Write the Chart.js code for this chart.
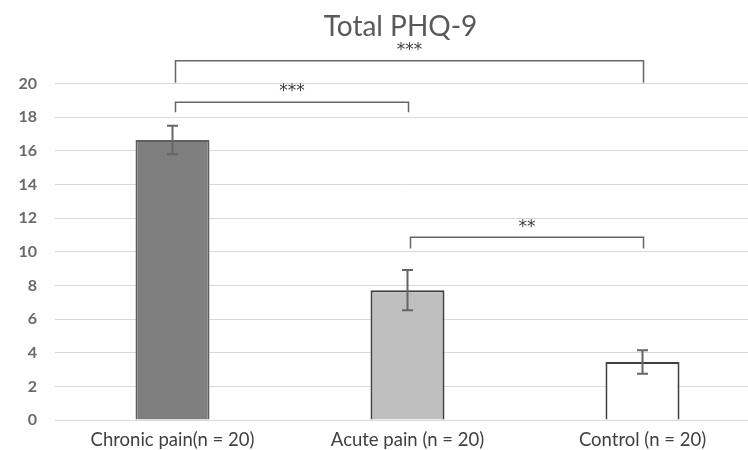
<!DOCTYPE html>
<html>
<head>
<meta charset="utf-8">
<script src="https://cdn.jsdelivr.net/npm/chart.js@4.4.1/dist/chart.umd.min.js"></script>
<style>
html,body{margin:0;padding:0;overflow:hidden;background:#fff;}
#wrap{width:760px;height:450px;}
</style>
</head>
<body>
<div id="wrap"><canvas id="c" width="760" height="450"></canvas></div>
<script>
const categories = ['Chronic pain(n = 20)', 'Acute pain (n = 20)', 'Control (n = 20)'];
const means = [16.65, 7.72, 3.45];
const errors = [0.85, 1.2, 0.7];
const fillColors = ['#7f7f7f', '#bfbfbf', '#ffffff'];
const borderColors = ['#5f5f5f', '#404040', '#404040'];
const yTicksMax = 20;
// brackets: from/to category index, top height, drop height, label height, label
const bracketFrom = [0, 0, 1];
const bracketTo = [2, 1, 2];
const bracketTop = [21.36, 18.9, 10.86];
const bracketDrop = [20.06, 18.3, 10.2];
const bracketLabelY = [21.95, 19.5, 11.45];
const bracketLabels = ['***', '***', '**'];

const FONT = 'Lato, "Open Sans", sans-serif';

const titleShift = {
  id: 'titleShift',
  afterLayout(chart) {
    const t = chart.titleBlock;
    if (t) { t.left -= 7; t.right -= 7; }
  }
};

const errPlugin = {
  id: 'errPlugin',
  afterDatasetsDraw(chart) {
    const ctx = chart.ctx, x = chart.scales.x, y = chart.scales.y;
    ctx.save();
    ctx.strokeStyle = '#666666';
    ctx.lineWidth = 2;
    means.forEach((m, i) => {
      const px = x.getPixelForValue(i);
      const t = y.getPixelForValue(m + errors[i]);
      const b = y.getPixelForValue(m - errors[i]);
      ctx.beginPath();
      ctx.moveTo(px, t); ctx.lineTo(px, b);
      ctx.moveTo(px - 5.5, t); ctx.lineTo(px + 5.5, t);
      ctx.moveTo(px - 5.5, b); ctx.lineTo(px + 5.5, b);
      ctx.stroke();
    });
    ctx.strokeStyle = '#666666';
    ctx.lineWidth = 1.5;
    ctx.fillStyle = '#404040';
    ctx.font = '17px "DejaVu Sans", sans-serif';
    ctx.textAlign = 'center';
    ctx.textBaseline = 'middle';
    bracketFrom.forEach((f, k) => {
      const x1 = x.getPixelForValue(f) + 3;
      const x2 = x.getPixelForValue(bracketTo[k]) + 1;
      const yt = y.getPixelForValue(bracketTop[k]);
      const yd = y.getPixelForValue(bracketDrop[k]);
      ctx.beginPath();
      ctx.moveTo(x1, yd); ctx.lineTo(x1, yt); ctx.lineTo(x2, yt); ctx.lineTo(x2, yd);
      ctx.stroke();
      ctx.fillText(bracketLabels[k], (x1 + x2) / 2, y.getPixelForValue(bracketLabelY[k]));
    });
    ctx.restore();
  }
};

new Chart(document.getElementById('c'), {
  type: 'bar',
  data: {
    labels: categories,
    datasets: [{
      data: means,
      backgroundColor: fillColors,
      borderColor: borderColors,
      borderWidth: 2,
      barPercentage: 0.315,
      categoryPercentage: 1
    }]
  },
  options: {
    responsive: false,
    animation: false,
    layout: { padding: 0 },
    plugins: {
      legend: { display: false },
      tooltip: { enabled: false },
      title: {
        display: true,
        text: 'Total PHQ-9',
        fullSize: false,
        color: '#595959',
        font: { family: FONT, size: 28, weight: 'normal' },
        padding: { top: 10, bottom: 6.4 }
      }
    },
    scales: {
      x: {
        grid: { display: false, drawTicks: false },
        border: { display: true, color: '#d9d9d9', width: 1 },
        ticks: { color: '#404040', font: { family: FONT, size: 18.5 }, padding: 9 },
        afterFit(a) { a.height = 30; }
      },
      y: {
        min: 0, max: 22,
        grid: { color: '#d9d9d9', drawTicks: false },
        border: { display: false },
        ticks: { stepSize: 2, color: '#6a6a6a', font: { family: FONT, size: 16, weight: 'bold' }, padding: 18 },
        afterBuildTicks(a) { a.ticks = a.ticks.filter(t => t.value <= yTicksMax); },
        afterFit(a) { a.width = 55; }
      }
    }
  },
  plugins: [titleShift, errPlugin]
});
</script>
</body>
</html>
